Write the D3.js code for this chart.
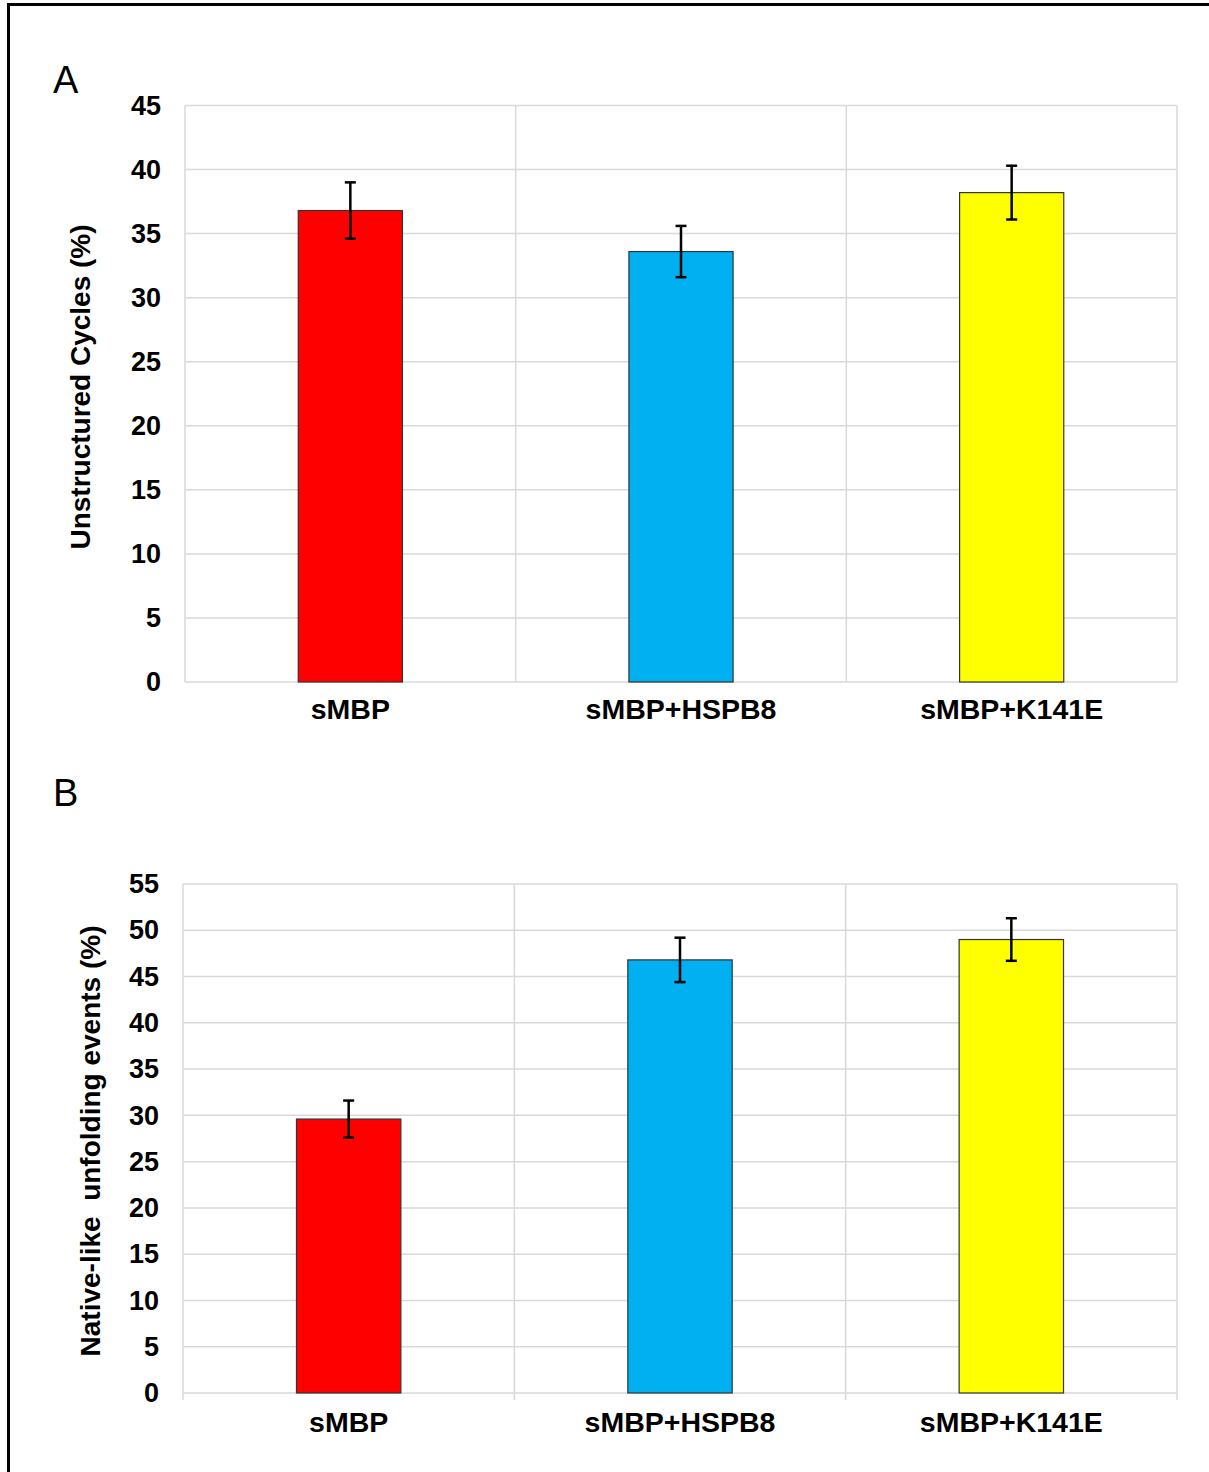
<!DOCTYPE html>
<html>
<head>
<meta charset="utf-8">
<script src="https://cdn.jsdelivr.net/npm/d3@7"></script>
<style>
  body { margin: 0; background: #fff; }
  svg text { font-family: "Liberation Sans", Arial, sans-serif; }
</style>
</head>
<body>
<div id="chart"></div>
<script>
// data
const categories = ['sMBP', 'sMBP+HSPB8', 'sMBP+K141E'];
const barColors = ['#ff0000', '#00b0f0', '#ffff00'];

const unstructured = [36.8, 33.6, 38.2];
const unstructuredErr = [2.2, 2.0, 2.1];
const ticksA = [0, 5, 10, 15, 20, 25, 30, 35, 40, 45];

const nativeLike = [29.6, 46.8, 49.0];
const nativeLikeErr = [2.0, 2.4, 2.3];
const ticksB = [0, 5, 10, 15, 20, 25, 30, 35, 40, 45, 50, 55];

const svg = d3.select('#chart')
    .append('svg')
    .attr('width', 1209)
    .attr('height', 1472);

// frame (left + top edges only)
svg.append('path')
    .attr('d', 'M8.5,1472 L8.5,4.5 L1209,4.5')
    .attr('fill', 'none')
    .attr('stroke', '#000')
    .attr('stroke-width', 3);

function drawPanel(opts) {
    const { letter, letterY, left, right, top, bottom, values, errs, ticks,
        yTitle, titleX, titleY, labelY, tickLen } = opts;

    const g = svg.append('g');

    const x = d3.scaleBand()
        .domain(categories)
        .range([left, right]);

    const y = d3.scaleLinear()
        .domain([0, d3.max(ticks)])
        .range([bottom, top]);

    // horizontal gridlines
    g.append('g').selectAll('line')
        .data(ticks)
        .enter()
        .append('line')
        .attr('x1', left)
        .attr('x2', right)
        .attr('y1', d => y(d))
        .attr('y2', d => y(d))
        .attr('stroke', '#d9d9d9')
        .attr('stroke-width', 1.5);

    // vertical category separators
    const seps = categories.map(c => x(c)).concat([right]);
    g.append('g').selectAll('line')
        .data(seps)
        .enter()
        .append('line')
        .attr('x1', d => d)
        .attr('x2', d => d)
        .attr('y1', top)
        .attr('y2', bottom + tickLen)
        .attr('stroke', '#d9d9d9')
        .attr('stroke-width', 1.5);

    // y axis labels
    const yAxis = g.append('g')
        .attr('transform', 'translate(' + (left - 24) + ',0)')
        .call(d3.axisLeft(y).tickValues(ticks).tickSize(0).tickPadding(0));
    yAxis.select('.domain').remove();
    yAxis.selectAll('text')
        .attr('font-size', 27)
        .attr('font-weight', 'bold')
        .attr('fill', '#000')
        .attr('font-family', '"Liberation Sans", Arial, sans-serif');

    // bars
    const bw = x.bandwidth() * 0.315;
    g.append('g').selectAll('rect')
        .data(values)
        .enter()
        .append('rect')
        .attr('x', (d, i) => x(categories[i]) + x.bandwidth() / 2 - bw / 2)
        .attr('y', d => y(d))
        .attr('width', bw)
        .attr('height', d => y(0) - y(d))
        .attr('fill', (d, i) => barColors[i])
        .attr('stroke', '#333')
        .attr('stroke-width', 1.2);

    // error bars
    const eb = g.append('g')
        .attr('stroke', '#000')
        .attr('stroke-width', 2.5);
    values.forEach((v, i) => {
        const cx = x(categories[i]) + x.bandwidth() / 2;
        const hi = y(v + errs[i]);
        const lo = y(v - errs[i]);
        eb.append('line').attr('x1', cx).attr('x2', cx).attr('y1', hi).attr('y2', lo);
        eb.append('line').attr('x1', cx - 5.5).attr('x2', cx + 5.5).attr('y1', hi).attr('y2', hi);
        eb.append('line').attr('x1', cx - 5.5).attr('x2', cx + 5.5).attr('y1', lo).attr('y2', lo);
    });

    // category labels
    g.append('g').selectAll('text')
        .data(categories)
        .enter()
        .append('text')
        .attr('x', d => x(d) + x.bandwidth() / 2)
        .attr('y', labelY)
        .attr('text-anchor', 'middle')
        .attr('font-size', 28.5)
        .attr('font-weight', 'bold')
        .text(d => d);

    // y axis title
    g.append('text')
        .attr('transform', 'translate(' + titleX + ',' + titleY + ') rotate(-90)')
        .attr('text-anchor', 'middle')
        .attr('font-size', 28)
        .attr('font-weight', 'bold')
        .attr('xml:space', 'preserve')
        .style('white-space', 'pre')
        .text(yTitle);

    // panel letter
    g.append('text')
        .attr('x', 53)
        .attr('y', letterY)
        .attr('font-size', 38)
        .attr('font-family', '"Open Sans", "Liberation Sans", sans-serif')
        .text(letter);
}

drawPanel({
    letter: 'A', letterY: 93,
    left: 185, right: 1177, top: 105.5, bottom: 682,
    values: unstructured, errs: unstructuredErr, ticks: ticksA,
    yTitle: 'Unstructured Cycles (%)', titleX: 90, titleY: 387, labelY: 719, tickLen: 0
});

drawPanel({
    letter: 'B', letterY: 806,
    left: 183, right: 1177, top: 884, bottom: 1393,
    values: nativeLike, errs: nativeLikeErr, ticks: ticksB,
    yTitle: 'Native-like  unfolding events (%)', titleX: 100, titleY: 1141, labelY: 1432, tickLen: 7
});
</script>
</body>
</html>
